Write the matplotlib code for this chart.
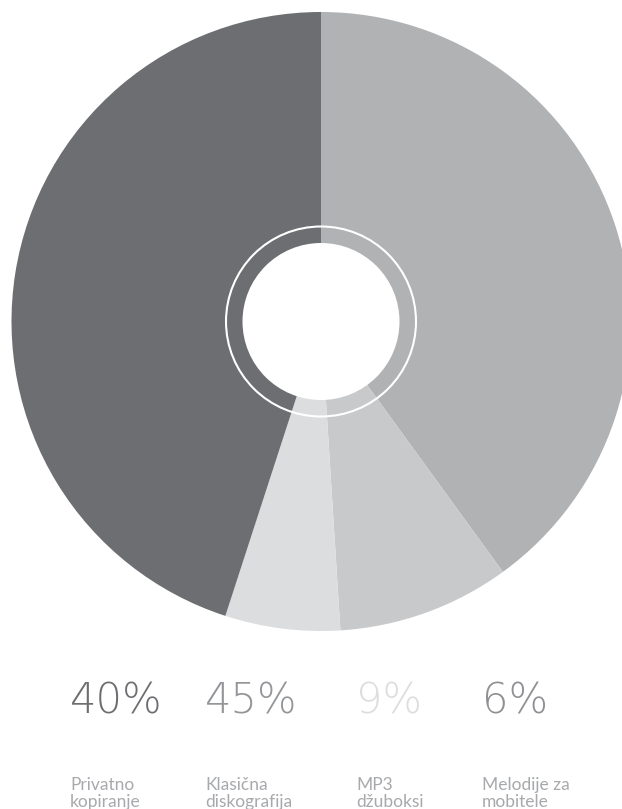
import matplotlib.pyplot as plt
from matplotlib.patches import Circle

# data, in the order of the legend below the chart
categories = [["Privatno", "kopiranje"], ["Klasična", "diskografija"],
              ["MP3", "džuboksi"], ["Melodije za", "mobitele"]]
shares = [40, 45, 9, 6]
share_labels = ["40%", "45%", "9%", "6%"]

# slices go clockwise from 12 o'clock in this order
slice_order = [0, 2, 3, 1]
slice_colors = ["#b1b2b4", "#c8c9cb", "#dcdddf", "#6d6e71"]
text_colors = ["#6d6e71", "#939598", "#dcdddf", "#8e9093"]
label_x = [70, 205, 356, 482]

W, H = 622, 809
fig = plt.figure(figsize=(W / 100, H / 100), dpi=100)
ax = fig.add_axes([0, 0, 1, 1])

# y axis is flipped (pixel coords), so angles run the other way
cx, cy, R = 321, 321.5, 309.5
ax.pie([shares[i] for i in slice_order], colors=slice_colors, startangle=-90,
       counterclock=True, center=(cx, cy), radius=R,
       wedgeprops=dict(linewidth=0))

# white hole and thin white ring
ax.add_patch(Circle((cx, cy), 78.5, facecolor="white", edgecolor="none", zorder=3))
ax.add_patch(Circle((cx, cy), 95, facecolor="none", edgecolor="white", lw=1.5, zorder=3))

for i in range(len(shares)):
    ax.text(label_x[i], 713, share_labels[i], fontsize=30, family="DejaVu Sans",
            weight="light", color=text_colors[i], ha="left", va="baseline")
    ax.text(label_x[i], 790, categories[i][0], fontsize=12.5, family="Lato",
            color="#a7a9ac", ha="left", va="baseline")
    ax.text(label_x[i], 807, categories[i][1], fontsize=12.5, family="Lato",
            color="#a7a9ac", ha="left", va="baseline")

ax.set_xlim(0, W)
ax.set_ylim(H, 0)
ax.set_aspect("auto")
ax.axis("off")

fig.savefig("out.png", dpi=100)
